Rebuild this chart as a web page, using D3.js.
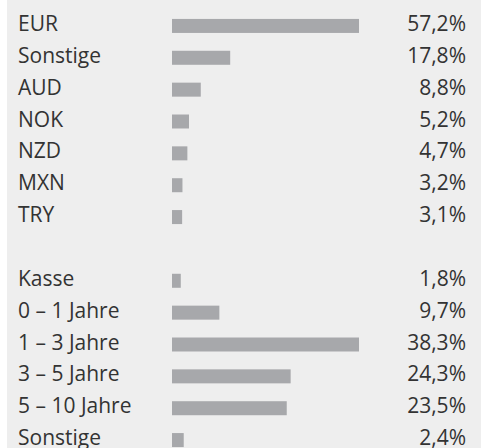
<!DOCTYPE html>
<html>
<head>
<meta charset="utf-8">
<script src="https://cdn.jsdelivr.net/npm/d3@7"></script>
<style>
  html, body { margin: 0; padding: 0; background: #fff; }
  svg { display: block; }
</style>
</head>
<body>
<svg width="481" height="448"></svg>
<script>
// Währungen
var currencyLabels = ["EUR", "Sonstige", "AUD", "NOK", "NZD", "MXN", "TRY"];
var currencyValues = [57.2, 17.8, 8.8, 5.2, 4.7, 3.2, 3.1];
// Laufzeiten
var maturityLabels = ["Kasse", "0 – 1 Jahre", "1 – 3 Jahre", "3 – 5 Jahre", "5 – 10 Jahre", "Sonstige"];
var maturityValues = [1.8, 9.7, 38.3, 24.3, 23.5, 2.4];

var svg = d3.select("svg"),
    width = +svg.attr("width"),
    height = +svg.attr("height");

svg.append("rect")
    .attr("x", 7).attr("y", 0)
    .attr("width", width - 7).attr("height", height)
    .attr("fill", "#eeeeee");

// one slot per row, plus an empty slot between the two blocks
var rows = currencyLabels.map(function (d, i) { return { key: "c" + i, label: d, value: currencyValues[i], group: 0 }; })
    .concat([{ key: "gap" }])
    .concat(maturityLabels.map(function (d, i) { return { key: "m" + i, label: d, value: maturityValues[i], group: 1 }; }));

var y = d3.scaleBand()
    .domain(rows.map(d => d.key))
    .range([10, 456]);

// each block is scaled to its own maximum
var xScales = [
    d3.scaleLinear().domain([0, d3.max(currencyValues)]).range([172, 359]),
    d3.scaleLinear().domain([0, d3.max(maturityValues)]).range([172, 359])
];

var data = rows.filter(d => d.key != "gap");
var fmt = function (v) { return d3.format(".1f")(v).replace(".", ",") + "%"; };

var g = svg.append("g");

g.selectAll("rect.bar")
    .data(data)
    .enter()
    .append("rect")
    .attr("class", "bar")
    .attr("x", d => xScales[d.group](0))
    .attr("y", d => y(d.key) + y.bandwidth() / 2 - 7)
    .attr("width", d => xScales[d.group](d.value) - xScales[d.group](0))
    .attr("height", 14)
    .attr("fill", "#a7a8ab");

g.selectAll("text.label")
    .data(data)
    .enter()
    .append("text")
    .attr("class", "label")
    .attr("x", 18)
    .attr("y", d => y(d.key) + y.bandwidth() / 2 + 5)
    .style("font-family", "'Open Sans', sans-serif")
    .style("font-size", "21px")
    .attr("fill", "#333333")
    .text(d => d.label);

g.selectAll("text.value")
    .data(data)
    .enter()
    .append("text")
    .attr("class", "value")
    .attr("x", 466)
    .attr("y", d => y(d.key) + y.bandwidth() / 2 + 5)
    .attr("text-anchor", "end")
    .style("font-family", "'Open Sans', sans-serif")
    .style("font-size", "21px")
    .attr("fill", "#333333")
    .text(d => fmt(d.value));
</script>
</body>
</html>
